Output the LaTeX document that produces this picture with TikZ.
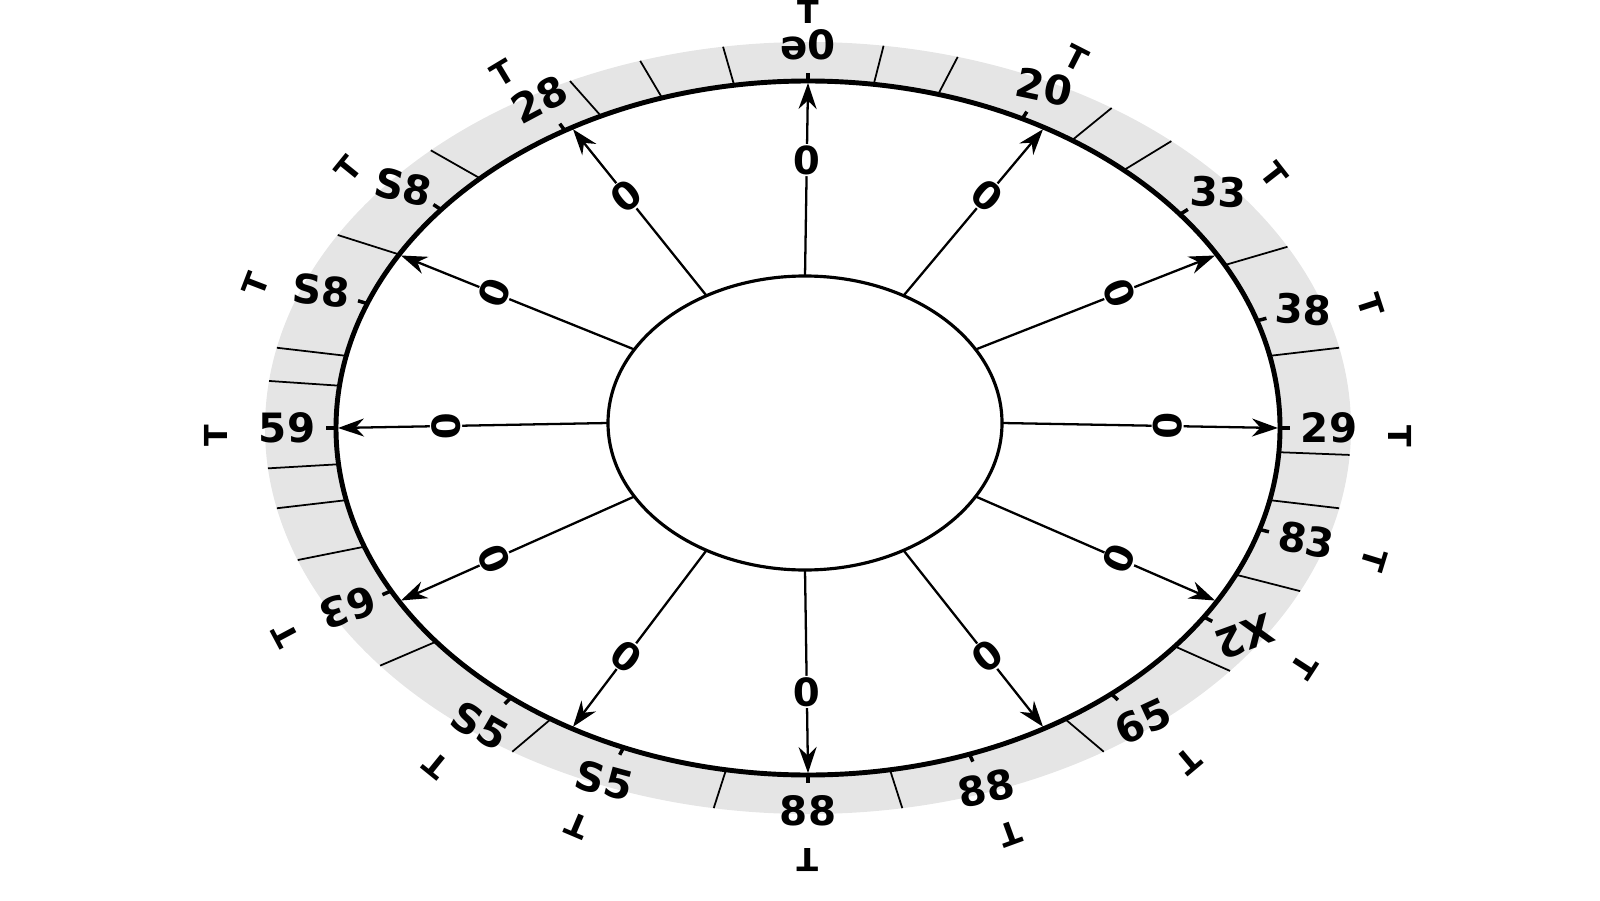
\documentclass[tikz,border=0pt]{standalone}
\usepackage{fontspec}
\setmainfont{DejaVu Sans}
\usetikzlibrary{arrows.meta}
\usetikzlibrary{calc}
\usetikzlibrary{shapes.geometric}

\tikzset{
  scalelabel/.style={font=\fontsize{11.5}{13}\selectfont\bfseries, inner sep=0pt},
  zerolabel/.style={font=\fontsize{11}{12}\selectfont\bfseries, fill=white, inner sep=0.4pt},
  endmark/.style={font=\fontsize{9}{10}\selectfont\bfseries, inner sep=0pt},
  spoke/.style={line width=0.65pt, -{Stealth[length=2.6mm, width=1.8mm]}},
  divider/.style={line width=0.5pt}
}

\begin{document}
\begin{tikzpicture}
  \useasboundingbox (0,0) rectangle (16,9);
  \coordinate (co) at (8.08,4.72);
  \coordinate (ci) at (8.05,4.77);
  \coordinate (cm) at (8.08,4.64);

  % grey scale band
  \fill[black!10, even odd rule] (co) ellipse [x radius=5.43, y radius=3.86]
                                 (co) ellipse [x radius=4.72, y radius=3.47];
  \foreach \a in {12,28,48,56,74,82,99,108,116,134,150,168,173,186,192,200,218,237,260,280,303,321,335,348,356}
    \draw[divider] ($(co)+(\a:4.72 and 3.47)$) -- ($(co)+(\a:5.43 and 3.86)$);

  % rings
  \draw[line width=1.4pt] (co) ellipse [x radius=4.72, y radius=3.47];
  \node[draw, line width=0.9pt, ellipse, minimum width=3.94cm, minimum height=2.94cm, inner sep=0pt] (hub) at (ci) {};

  % spokes
  \foreach \t [count=\i] in {0,30,...,330} {
    \coordinate (s\i) at ($(ci)+(\t:1.97 and 1.47)$);
    \coordinate (e\i) at ($(co)+(\t:4.70 and 3.45)$);
    \draw[spoke] (s\i) -- node[zerolabel, sloped, rotate=90, pos=0.6] (z\i) {0} (e\i);
  }

  % scale labels, ticks and end marks
  \foreach \t/\txt/\r [count=\i] in {90/ə0/0, 63/20/-12, 38/33/-3, 18/38/-3, 0/29/0,
      -17/83/-10, -33/X2/200, -50/65/25, -70/88/12, -90/88/0, 247/S5/-15,
      231/S5/-30, 208/63/200, 180/59/0, 159/S8/-5, 141/S8/-12, 121/28/28} {
    \node[scalelabel, rotate=\r] (lab\i) at ($(co)+(\t:5.21 and 3.83)$) {\txt};
    \node[endmark, rotate=\t-90] (mark\i) at ($(cm)+(\t:5.92 and 4.24)$) {T};
    \draw[line width=1pt] ($(co)+(\t:4.72 and 3.47)$) -- ($(co)+(\t:4.82 and 3.55)$);
  }
\end{tikzpicture}
\end{document}
